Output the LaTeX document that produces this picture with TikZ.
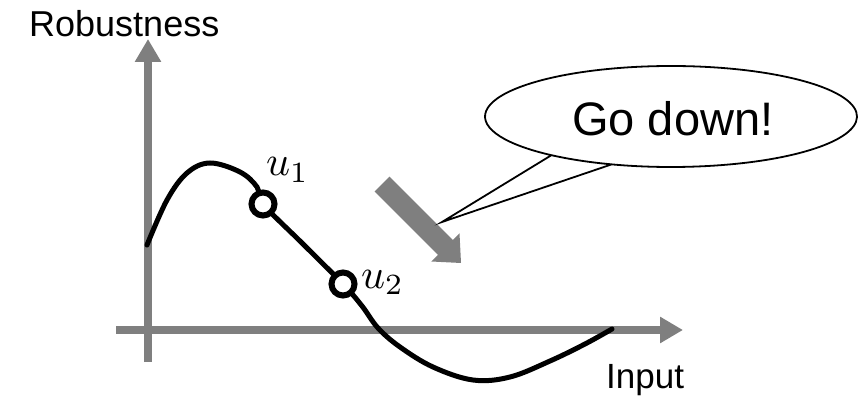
\documentclass[tikz,border=0pt]{standalone}
\usepackage{graphicx}
\usepackage{fontspec}
\setmainfont{Liberation Sans}
\usetikzlibrary{arrows.meta}
\definecolor{axisgray}{HTML}{7F7F7F}
\newcommand{\bigmath}[1]{\scalebox{4.2}{$#1$}}
\tikzset{
  axisline/.style={draw=axisgray, line width=8pt, -{Triangle[length=23pt,width=25pt]}},
  curveline/.style={draw=black, line width=5pt, line cap=round},
  ptmark/.style={circle, draw=black, fill=white, line width=6pt, minimum size=23pt, inner sep=0pt},
  mathlbl/.style={inner sep=0pt, anchor=base west},
  axlbl/.style={inner sep=0pt, anchor=base west, font=\fontsize{35}{40}\selectfont},
  bubble/.style={draw=black, fill=white, line width=1.8pt, line join=miter},
  bigarrow/.style={fill=axisgray, draw=none}
}
\begin{document}
\begin{tikzpicture}[x=1pt,y=1pt]
\useasboundingbox (0,0) rectangle (858,396);
% axes
\coordinate (yb) at (148,34);
\coordinate (yt) at (148,357);
\coordinate (xl) at (116,66);
\coordinate (xr) at (683,66);
\draw[axisline] (yb) -- (yt);
\draw[axisline] (xl) -- (xr);
% curve
\draw[curveline] plot[smooth, tension=0.6] coordinates {
 (147,151) (167,196) (187,223) (210,233) (240,224) (257,209) (263,192)
 (303,152) (343,112) (362,90) (378,68) (400,49) (433,29) (473,16)
 (510,19) (550,35) (585,52) (612,67)};
% points
\node[ptmark] (u1) at (263,192) {};
\node[ptmark] (u2) at (343,112) {};
\node[mathlbl] (l1) at (266,220) {\bigmath{u_1}};
\node[mathlbl] (l2) at (361,108) {\bigmath{u_2}};
% axis labels
\node[axlbl, font=\fontsize{36}{40}\selectfont] (rob) at (29,359) {Robustness};
\node[axlbl] (inp) at (606,8) {Input};
% big gray arrow
\fill[bigarrow] (389.4,219.4) -- (452.8,156.0) -- (459.5,162.7) -- (461,133)
  -- (431.3,134.5) -- (438.0,141.2) -- (374.6,204.6) -- cycle;
% speech bubble
\coordinate (bc) at (671,279.5);
\coordinate (tip) at (442,174);
\path (bc) ++(251.4:186pt and 50.5pt) coordinate (t1);
\path (bc) ++(230:186pt and 50.5pt) coordinate (t2);
\draw[bubble] (t1) -- (tip) -- (t2)
  arc[start angle=230, end angle=611.4, x radius=186pt, y radius=50.5pt] -- cycle;
\node[axlbl, font=\fontsize{47}{52}\selectfont] (go) at (572,260) {Go down!};
\end{tikzpicture}
\end{document}
